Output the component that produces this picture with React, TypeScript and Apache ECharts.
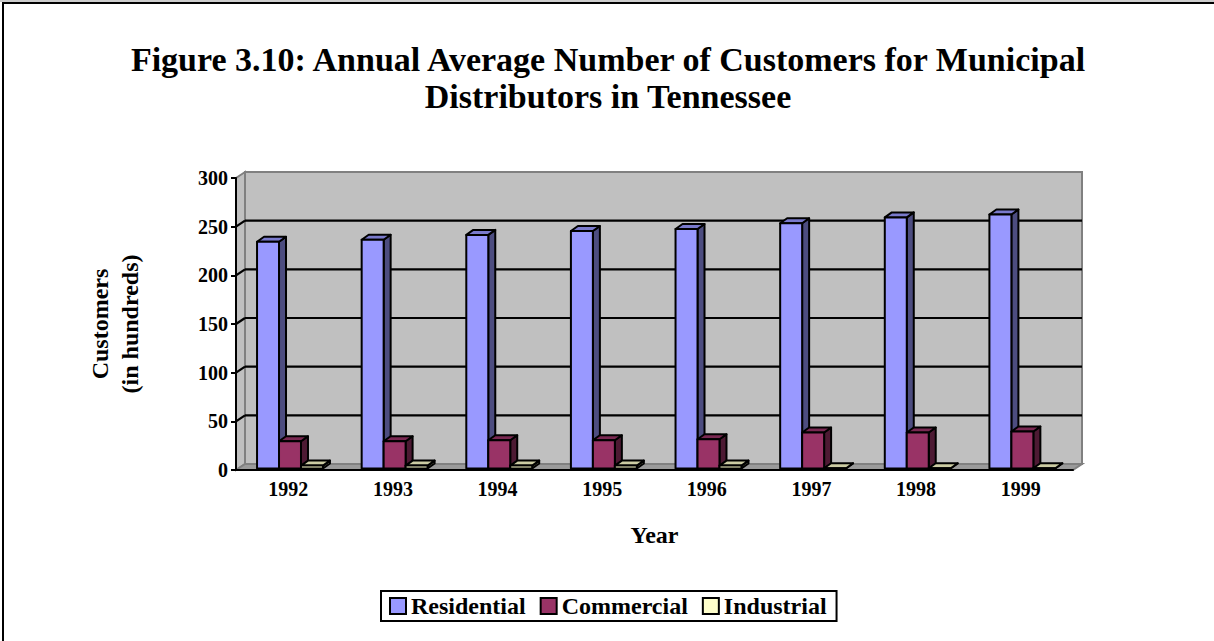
import React, { useEffect, useRef } from "react";
import * as echarts from "echarts";

const years = ["1992", "1993", "1994", "1995", "1996", "1997", "1998", "1999"];
const residential = [233, 235, 240, 244, 246, 252, 258, 261];
const commercial = [28, 28, 29, 29, 30, 37, 37, 38];
const industrial = [3, 3, 3, 3, 3, 0.3, 0.3, 0.3];
const seriesNames = ["Residential", "Commercial", "Industrial"];
const yTicks = [0, 50, 100, 150, 200, 250, 300];
const titleLines = [
  "Figure 3.10: Annual Average Number of Customers for Municipal",
  "Distributors in Tennessee",
];

const FONT = "'Liberation Serif', 'Times New Roman', Times, serif";

// colours: front, side, top
const palette = [
  ["#9999FF", "#4D4D80", "#7A7ACC"],
  ["#993366", "#4D1A33", "#7A2952"],
  ["#FFFFCC", "#808066", "#CCCCA3"],
];

const WALL_DX = 9;
const WALL_DY = -6;

export default function App() {
  const ref = useRef<HTMLDivElement>(null);

  useEffect(() => {
    if (!ref.current) return;
    const chart = echarts.init(ref.current, null, { renderer: "svg" });

    const barRender = (sIdx: number) => (params: any, api: any) => {
      const band = api.size([1, 0])[0];
      const cat = api.value(0);
      const val = api.value(1);
      const [cx, yTopRaw] = api.coord([cat, val]);
      const yBaseRaw = api.coord([cat, 0])[1];
      const w = band * 0.21;
      const ox = 2;
      const oy = -1.5;
      const dx = 7;
      const dy = -5;
      const x0 = cx - band / 2 + band * 0.182 + sIdx * w + ox;
      const yTop = yTopRaw + oy;
      const yBase = yBaseRaw + oy;
      const [cF, cS, cT] = palette[sIdx];
      const stroke = { stroke: "#000", lineWidth: 2, lineJoin: "round" };
      return {
        type: "group",
        children: [
          {
            type: "polygon",
            shape: {
              points: [
                [x0 + w, yTop],
                [x0 + w + dx, yTop + dy],
                [x0 + w + dx, yBase + dy],
                [x0 + w, yBase],
              ],
            },
            style: { fill: cS, ...stroke },
          },
          {
            type: "polygon",
            shape: {
              points: [
                [x0, yTop],
                [x0 + dx, yTop + dy],
                [x0 + w + dx, yTop + dy],
                [x0 + w, yTop],
              ],
            },
            style: { fill: cT, ...stroke },
          },
          {
            type: "rect",
            shape: { x: x0, y: yTop, width: w, height: yBase - yTop },
            style: { fill: cF, ...stroke },
          },
        ],
      };
    };

    const wallRender = (params: any, api: any) => {
      const cs = params.coordSys;
      const L = cs.x;
      const R = cs.x + cs.width;
      const T = cs.y;
      const B = cs.y + cs.height;
      const children: any[] = [];
      children.push({
        type: "rect",
        shape: { x: L + WALL_DX, y: T + WALL_DY, width: R - L, height: B - T },
        style: { fill: "#C0C0C0", stroke: "#808080", lineWidth: 2 },
      });
      children.push({
        type: "polygon",
        shape: {
          points: [
            [L, T],
            [L + WALL_DX, T + WALL_DY],
            [L + WALL_DX, B + WALL_DY],
            [L, B],
          ],
        },
        style: { fill: "#C0C0C0", stroke: "#808080", lineWidth: 2 },
      });
      children.push({
        type: "polygon",
        shape: {
          points: [
            [L, B],
            [L + WALL_DX, B + WALL_DY],
            [R + WALL_DX, B + WALL_DY],
            [R, B],
          ],
        },
        style: { fill: "#9A9A9A", stroke: "#808080", lineWidth: 2 },
      });
      yTicks.forEach((v) => {
        if (v === 0 || v === 300) return;
        const y = api.coord([0, v])[1];
        children.push({
          type: "line",
          shape: { x1: L + WALL_DX, y1: y + WALL_DY, x2: R + WALL_DX, y2: y + WALL_DY },
          style: { stroke: "#000", lineWidth: 2.2 },
        });
        children.push({
          type: "line",
          shape: { x1: L, y1: y, x2: L + WALL_DX, y2: y + WALL_DY },
          style: { stroke: "#000", lineWidth: 2.2 },
        });
      });
      return { type: "group", children };
    };

    const dataSets = [residential, commercial, industrial];

    chart.setOption({
      animation: false,
      backgroundColor: "#fff",
      textStyle: { fontFamily: FONT },
      graphic: [
        {
          type: "rect",
          shape: { x: 3, y: 3, width: 1240, height: 680 },
          style: { fill: "none", stroke: "#000", lineWidth: 2 },
          z: 100,
        },
        {
          type: "line",
          shape: { x1: 0, y1: 1, x2: 1214, y2: 1 },
          style: { stroke: "#999", lineWidth: 1 },
          z: 100,
        },
        ...titleLines.map((t, i) => ({
          type: "text",
          x: 608,
          y: 59 + i * 37,
          style: {
            text: t,
            font: `bold 34px ${FONT}`,
            fill: "#000",
            align: "center",
            verticalAlign: "middle",
          },
        })),
      ],
      legend: {
        left: 381,
        top: 591,
        orient: "horizontal",
        data: seriesNames,
        icon: "rect",
        itemWidth: 16,
        itemHeight: 16,
        itemGap: 14,
        padding: [3, 10, 3, 8],
        borderColor: "#000",
        borderWidth: 2,
        itemStyle: { borderColor: "#000", borderWidth: 2 },
        textStyle: { fontFamily: FONT, fontWeight: "bold", fontSize: 24, color: "#000" },
      },
      grid: { left: 236, top: 178, width: 837, height: 292 },
      xAxis: {
        type: "category",
        data: years,
        z: 10,
        axisLine: { lineStyle: { color: "#000", width: 2 } },
        axisTick: { length: 6, lineStyle: { color: "#000", width: 2 } },
        axisLabel: { margin: 9, color: "#000", fontWeight: "bold", fontSize: 20, fontFamily: FONT },
        name: "Year",
        nameLocation: "middle",
        nameGap: 53,
        nameTextStyle: { color: "#000", fontWeight: "bold", fontSize: 24, fontFamily: FONT },
        splitLine: { show: false },
      },
      yAxis: {
        type: "value",
        min: 0,
        max: 300,
        interval: 50,
        z: 10,
        axisLine: { show: true, lineStyle: { color: "#000", width: 2 } },
        axisTick: { show: true, length: 5, lineStyle: { color: "#000", width: 2 } },
        axisLabel: { margin: 8, color: "#000", fontWeight: "bold", fontSize: 20, fontFamily: FONT },
        splitLine: { show: false },
        name: "Customers\n(in hundreds)",
        nameLocation: "middle",
        nameRotate: 90,
        nameGap: 91,
        nameTextStyle: { color: "#000", fontWeight: "bold", fontSize: 24, lineHeight: 30, fontFamily: FONT },
      },
      series: [
        {
          type: "custom",
          name: "walls",
          z: 1,
          silent: true,
          clip: false,
          renderItem: wallRender,
          data: [[0, 0]],
          encode: { x: 0, y: 1 },
        },
        ...seriesNames.map((name, i) => ({
          type: "custom",
          name,
          z: 2 + i,
          clip: false,
          itemStyle: { color: palette[i][0] },
          renderItem: barRender(i),
          encode: { x: 0, y: 1 },
          data: dataSets[i].map((v, j) => [j, v]),
        })),
      ],
    });

    return () => chart.dispose();
  }, []);

  return (
    <div
      ref={ref}
      style={{ position: "fixed", left: 0, top: 0, width: 1214, height: 641 }}
    />
  );
}
